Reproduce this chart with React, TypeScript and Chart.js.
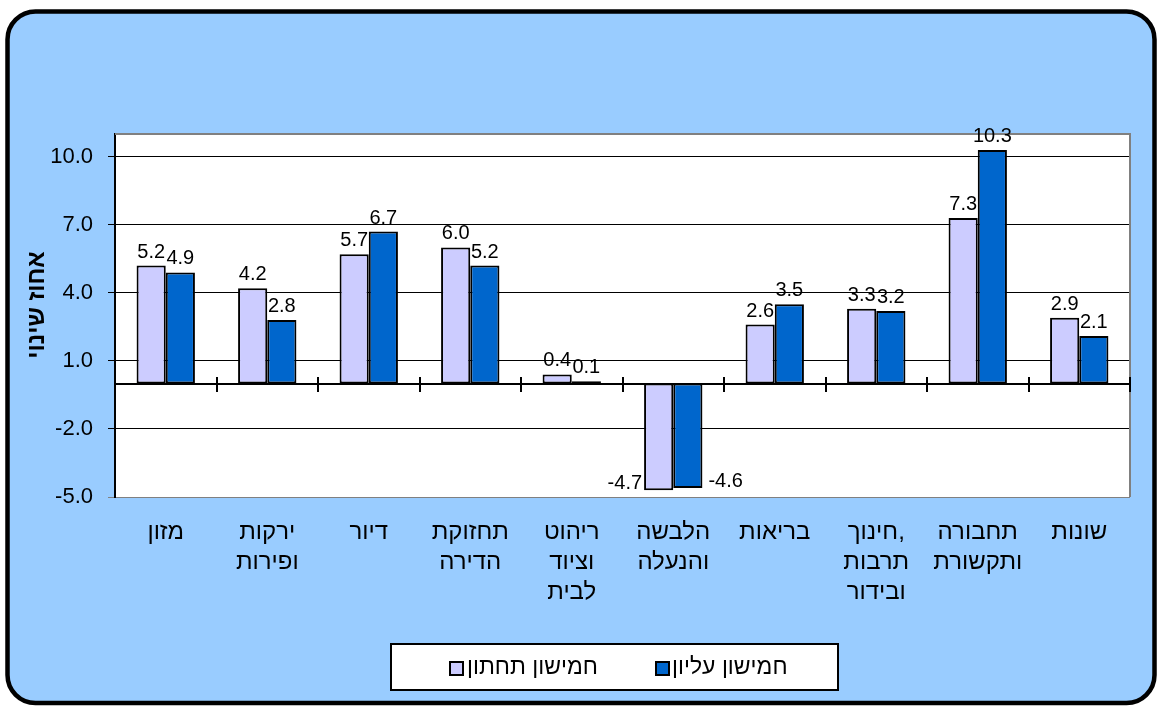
import React, { useEffect, useRef } from 'react';
import { Chart, registerables } from 'chart.js';

Chart.register(...registerables);

const categories: string[][] = [
  ['מזון'],
  ['ירקות', 'ופירות'],
  ['דיור'],
  ['תחזוקת', 'הדירה'],
  ['ריהוט', 'וציוד', 'לבית'],
  ['הלבשה', 'והנעלה'],
  ['בריאות'],
  ['חינוך,', 'תרבות', 'ובידור'],
  ['תחבורה', 'ותקשורת'],
  ['שונות'],
];
const lowerQuintile = [5.2, 4.2, 5.7, 6.0, 0.4, -4.7, 2.6, 3.3, 7.3, 2.9];
const upperQuintile = [4.9, 2.8, 6.7, 5.2, 0.1, -4.6, 3.5, 3.2, 10.3, 2.1];
const seriesNames = ['חמישון תחתון', 'חמישון עליון'];
const yTicks = [-5, -2, 1, 4, 7, 10];
const yMin = -5;
const yMax = 11;
const yAxisTitle = 'אחוז שינוי';

const FONT = "'Liberation Sans', Arial, sans-serif";
const LIGHT = '#CCCCFF';
const DARK = '#0066CC';

const decorPlugin = {
  id: 'decor',
  beforeDraw(chart: any) {
    const { ctx, chartArea: a } = chart;
    ctx.save();
    ctx.beginPath();
    ctx.roundRect(7.5, 11.5, 1147, 691.5, 28);
    ctx.fillStyle = '#99CCFF';
    ctx.fill();
    ctx.lineWidth = 4.5;
    ctx.strokeStyle = '#000';
    ctx.stroke();
    ctx.fillStyle = '#FFFFFF';
    ctx.fillRect(a.left, a.top, a.right - a.left, a.bottom - a.top);
    ctx.restore();
  },
  afterDatasetsDraw(chart: any) {
    const { ctx, chartArea: a, scales } = chart;
    const ys = scales.y;
    const xs = scales.x;
    ctx.save();
    // plot border top / right (grey)
    ctx.strokeStyle = '#808080';
    ctx.lineWidth = 2;
    ctx.beginPath();
    ctx.moveTo(a.left, a.top);
    ctx.lineTo(a.right, a.top);
    ctx.lineTo(a.right, a.bottom);
    ctx.stroke();
    // zero line with cross tick marks
    const y0 = Math.round(ys.getPixelForValue(0));
    ctx.strokeStyle = '#000';
    ctx.lineWidth = 2;
    ctx.beginPath();
    ctx.moveTo(a.left, y0);
    ctx.lineTo(a.right, y0);
    const n = categories.length;
    for (let i = 1; i <= n; i++) {
      const px = Math.round(xs.getPixelForValue(i - 0.5));
      ctx.moveTo(px, y0 - 7);
      ctx.lineTo(px, y0 + 8);
    }
    ctx.stroke();
    // data labels
    ctx.fillStyle = '#000';
    ctx.font = `20px ${FONT}`;
    chart.data.datasets.forEach((ds: any, di: number) => {
      const meta = chart.getDatasetMeta(di);
      meta.data.forEach((bar: any, i: number) => {
        const v = ds.data[i];
        const txt = v.toFixed(1);
        const half = bar.width / 2;
        ctx.textBaseline = 'alphabetic';
        if (v >= 0) {
          ctx.textAlign = 'center';
          ctx.fillText(txt, bar.x, bar.y - 8);
        } else if (di === 0) {
          ctx.textAlign = 'right';
          ctx.fillText(txt, bar.x - half - 2, bar.y - 1);
        } else {
          ctx.textAlign = 'left';
          ctx.fillText(txt, bar.x + half + 6, bar.y - 1);
        }
      });
    });
    ctx.restore();
  },
  afterDraw(chart: any) {
    const { ctx } = chart;
    ctx.save();
    // y axis title
    ctx.translate(37, 305);
    ctx.rotate(-Math.PI / 2);
    ctx.font = `bold 24px ${FONT}`;
    ctx.fillStyle = '#000';
    ctx.textAlign = 'center';
    ctx.textBaseline = 'middle';
    ctx.fillText(yAxisTitle, 0, 0);
    ctx.restore();

    // legend box
    ctx.save();
    ctx.fillStyle = '#FFFFFF';
    ctx.fillRect(391, 644, 447, 46);
    ctx.strokeStyle = '#000';
    ctx.lineWidth = 2;
    ctx.strokeRect(391, 644, 447, 46);
    const items = [
      { sx: 450, tx: 467, color: LIGHT },
      { sx: 656, tx: 672, color: DARK },
    ];
    ctx.font = `23px ${FONT}`;
    ctx.textBaseline = 'middle';
    ctx.textAlign = 'left';
    chart.data.datasets.forEach((ds: any, i: number) => {
      const it = items[i];
      ctx.fillStyle = it.color;
      ctx.fillRect(it.sx, 662, 13, 13);
      ctx.strokeStyle = '#000';
      ctx.lineWidth = 2;
      ctx.strokeRect(it.sx, 662, 13, 13);
      ctx.fillStyle = '#000';
      ctx.fillText(ds.label, it.tx, 668);
    });
    ctx.restore();
  },
};

export default function App() {
  const ref = useRef<HTMLCanvasElement | null>(null);
  useEffect(() => {
    if (!ref.current) return;
    const chart = new Chart(ref.current, {
      type: 'bar',
      data: {
        labels: categories as any,
        datasets: [
          {
            label: seriesNames[0],
            data: lowerQuintile,
            backgroundColor: LIGHT,
            borderColor: '#000',
            borderWidth: 2,
            borderSkipped: false,
            categoryPercentage: 0.575,
            barPercentage: 1,
          },
          {
            label: seriesNames[1],
            data: upperQuintile,
            backgroundColor: DARK,
            borderColor: '#000',
            borderWidth: 2,
            borderSkipped: false,
            categoryPercentage: 0.575,
            barPercentage: 1,
          },
        ],
      },
      options: {
        responsive: false,
        animation: false,
        devicePixelRatio: 1,
        events: [],
        layout: { padding: { left: 20, right: 30, top: 134, bottom: 0 } },
        plugins: {
          legend: { display: false },
          tooltip: { enabled: false },
        },
        scales: {
          x: {
            afterFit: (s: any) => {
              s.height = 709 - 497;
            },
            grid: { display: false, drawTicks: false },
            border: { display: false },
            ticks: {
              autoSkip: false,
              maxRotation: 0,
              minRotation: 0,
              padding: 20,
              color: '#000',
              font: { family: FONT, size: 24, lineHeight: 1.25 },
            },
          },
          y: {
            min: yMin,
            max: yMax,
            afterBuildTicks: (s: any) => {
              s.ticks = yTicks.map((v) => ({ value: v }));
            },
            afterFit: (s: any) => {
              s.width = 95;
            },
            ticks: {
              padding: 15,
              color: '#000',
              font: { family: FONT, size: 22 },
              callback: (v: any) => Number(v).toFixed(1),
            },
            grid: {
              color: (c: any) => (c.tick && c.tick.value === yMin ? '#808080' : '#000'),
              lineWidth: 1,
              tickLength: 7,
              drawTicks: true,
            },
            border: { display: true, color: '#000', width: 2 },
          },
        },
      },
      plugins: [decorPlugin],
    });
    return () => chart.destroy();
  }, []);
  return (
    <div style={{ position: 'absolute', left: 0, top: 0, width: 1160, height: 709 }}>
      <canvas ref={ref} width={1160} height={709} style={{ width: 1160, height: 709 }} />
    </div>
  );
}
